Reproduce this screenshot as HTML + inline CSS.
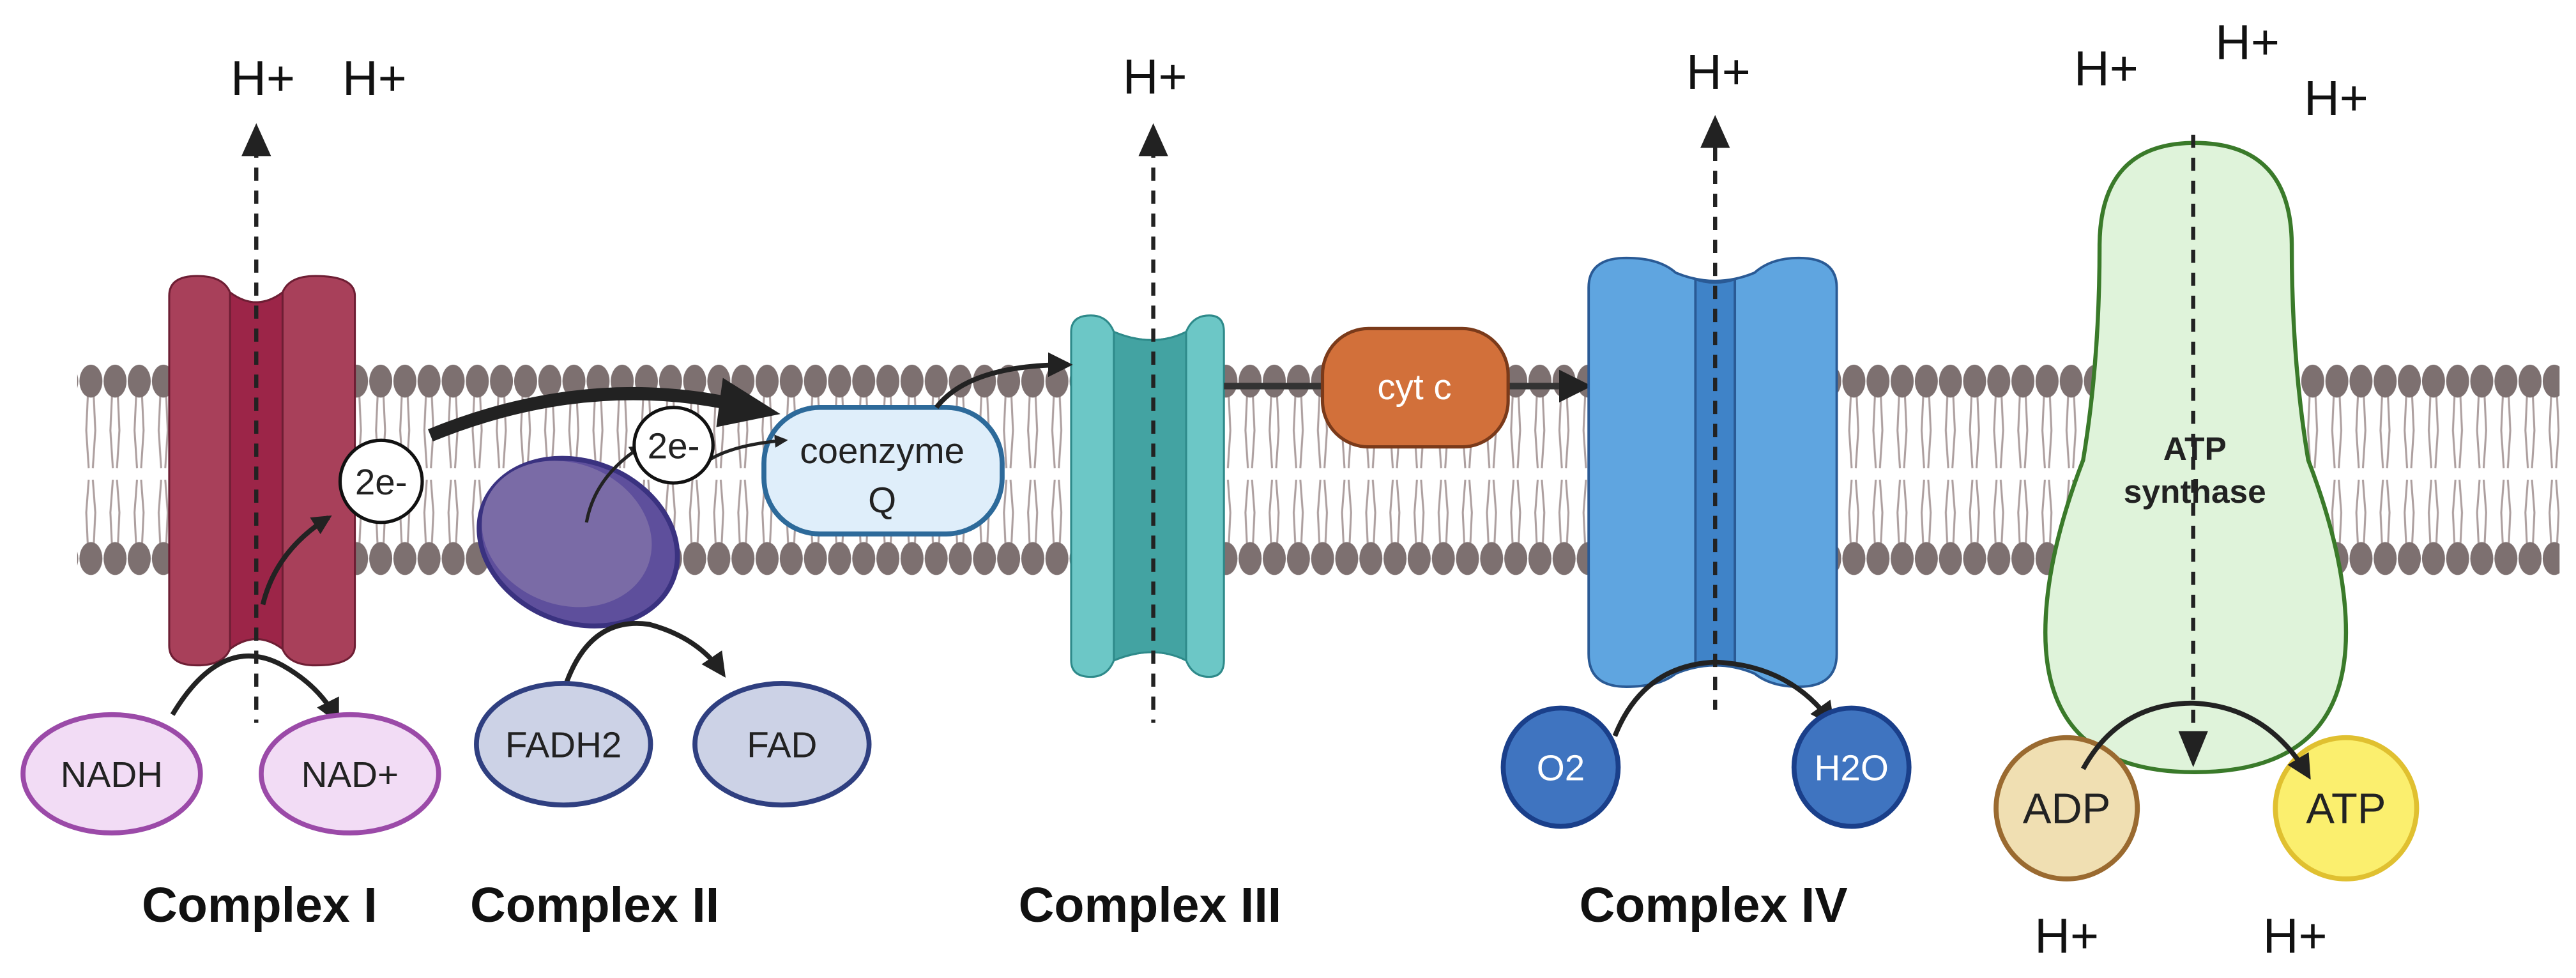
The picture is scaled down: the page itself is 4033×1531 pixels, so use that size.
<!DOCTYPE html>
<html><head><meta charset="utf-8"><style>html,body{margin:0;padding:0;background:#fff}svg{display:block}</style></head>
<body>
<svg width="4033" height="1531" viewBox="0 0 1568 595.3" preserveAspectRatio="none" xmlns="http://www.w3.org/2000/svg" font-family="Liberation Sans, sans-serif">
<defs>
<pattern id="lip" patternUnits="userSpaceOnUse" x="48" y="0" width="14.7" height="595">
<g stroke="#ad9f9f" stroke-width="1.2" fill="none">
<path d="M5.5 240 L4.5 262 L6 285 M9 240 L10 262 L8.5 285"/>
<path d="M6 292 L4.5 312 L5.5 333 M8.5 292 L10 312 L9 333"/>
</g>
<ellipse cx="7.35" cy="232" rx="7" ry="10" fill="#7d7070"/>
<ellipse cx="7.35" cy="340" rx="7" ry="10" fill="#7d7070"/>
</pattern>
<marker id="ah" viewBox="0 0 10 10" refX="8" refY="5" markerWidth="4" markerHeight="4" orient="auto"><path d="M0 0L10 5L0 10z" fill="#222"/></marker>
<marker id="ahs" viewBox="0 0 10 10" refX="8" refY="5" markerWidth="5" markerHeight="5" orient="auto"><path d="M0 0L10 5L0 10z" fill="#222"/></marker>
</defs>
<rect x="47" y="220" width="1511" height="132" fill="url(#lip)"/>

<!-- Complex I -->
<g stroke="#6e1e34" stroke-width="1.2">
<path d="M103 180 Q103 168 120 168 Q136 168 140 178 Q156 190 172 178 Q176 168 192 168 Q216 168 216 180 L216 393 Q216 405 192 405 Q176 405 172 395 Q156 383 140 395 Q136 405 120 405 Q103 405 103 393 Z" fill="#a8405a"/>
<path d="M140 178 Q156 190 172 178 L172 395 Q156 383 140 395 Z" fill="#9c2548"/>
</g>
<line x1="156" y1="88" x2="156" y2="440" stroke="#222" stroke-width="2.5" stroke-dasharray="8 6"/>
<path d="M147 95 L156 75 L165 95 Z" fill="#222"/>

<!-- Complex II -->
<ellipse cx="352" cy="330" rx="62" ry="49" transform="rotate(22 352 330)" fill="#5e4f9c" stroke="#3a3280" stroke-width="3"/>
<ellipse cx="345" cy="325" rx="53" ry="43" transform="rotate(22 345 325)" fill="#7a6ba6"/>

<!-- coenzyme Q -->
<rect x="465" y="248" width="145" height="77" rx="34" fill="#dfeefa" stroke="#2d6a9a" stroke-width="3"/>
<text x="537" y="282" font-size="22" text-anchor="middle" fill="#222">coenzyme</text>
<text x="537" y="312" font-size="22" text-anchor="middle" fill="#222">Q</text>

<!-- Complex III -->
<g stroke="#2e8a8a" stroke-width="1.2">
<path d="M652 202 Q652 192 664 192 Q674 192 678 202 Q702 212 722 202 Q726 192 736 192 Q745 192 745 202 L745 402 Q745 412 736 412 Q726 412 722 402 Q702 392 678 402 Q674 412 664 412 Q652 412 652 402 Z" fill="#6cc7c6"/>
<path d="M678 202 Q702 212 722 202 L722 402 Q702 392 678 402 Z" fill="#43a3a2"/>
</g>
<line x1="702" y1="88" x2="702" y2="440" stroke="#222" stroke-width="2.5" stroke-dasharray="8 6"/>
<path d="M693 95 L702 75 L711 95 Z" fill="#222"/>

<!-- cyt c -->
<line x1="745" y1="235" x2="806" y2="235" stroke="#333" stroke-width="4"/>
<line x1="918" y1="235" x2="965" y2="235" stroke="#333" stroke-width="4" marker-end="url(#ahs)"/>
<rect x="805" y="200" width="113" height="72" rx="28" fill="#d2703a" stroke="#7a3a1a" stroke-width="2"/>
<text x="861" y="243" font-size="22" text-anchor="middle" fill="#fff">cyt c</text>

<!-- Complex IV -->
<g stroke="#2a5a95" stroke-width="1.5">
<path d="M967 175 Q967 157 990 157 Q1010 157 1020 166 Q1044 176 1068 166 Q1078 157 1095 157 Q1118 157 1118 175 L1118 398 Q1118 418 1095 418 Q1078 418 1068 410 Q1044 400 1020 410 Q1010 418 990 418 Q967 418 967 398 Z" fill="#5fa5e0"/>
<path d="M1032 170 Q1044 174 1056 170 L1056 405 Q1044 401 1032 405 Z" fill="#3f83c8"/>
</g>
<line x1="1044" y1="90" x2="1044" y2="432" stroke="#222" stroke-width="2.5" stroke-dasharray="8 6"/>
<path d="M1035 90 L1044 70 L1053 90 Z" fill="#222"/>

<!-- ATP synthase -->
<path d="M1336 87 Q1395 87 1395 150 Q1395 220 1405 280 Q1428 340 1428 385 Q1428 470 1336 470 Q1245 470 1245 385 Q1245 340 1268 280 Q1278 220 1278 150 Q1278 87 1336 87 Z" fill="#dff3da" stroke="#3a7a2a" stroke-width="2.5"/>
<line x1="1335" y1="82" x2="1335" y2="450" stroke="#222" stroke-width="2.5" stroke-dasharray="8 6"/>
<path d="M1326 445 L1335 467 L1344 445 Z" fill="#222"/>
<text x="1336" y="280" font-size="20" font-weight="bold" text-anchor="middle" fill="#222">ATP</text>
<text x="1336" y="306" font-size="20" font-weight="bold" text-anchor="middle" fill="#222">synthase</text>

<!-- arrows -->
<path d="M262 265 Q360 225 455 248" fill="none" stroke="#222" stroke-width="8"/>
<path d="M440 230 L475 252 L436 260 Z" fill="#222"/>
<path d="M160 368 Q168 335 200 315" fill="none" stroke="#222" stroke-width="3" marker-end="url(#ah)"/>
<path d="M357 318 Q362 290 390 272" fill="none" stroke="#222" stroke-width="2" marker-end="url(#ah)"/>
<path d="M420 292 Q430 272 478 268" fill="none" stroke="#222" stroke-width="2" marker-end="url(#ah)"/>
<path d="M570 248 Q590 222 650 222" fill="none" stroke="#222" stroke-width="3" marker-end="url(#ahs)"/>
<path d="M105 435 Q135 385 172 405 Q195 418 205 438" fill="none" stroke="#222" stroke-width="3" marker-end="url(#ahs)"/>
<path d="M345 415 Q360 375 395 380 Q425 388 440 410" fill="none" stroke="#222" stroke-width="3" marker-end="url(#ahs)"/>
<path d="M983 448 Q1000 405 1044 403 Q1090 405 1115 440" fill="none" stroke="#222" stroke-width="3" marker-end="url(#ahs)"/>

<!-- 2e- circles -->
<ellipse cx="232" cy="293" rx="25" ry="25" fill="#fff" stroke="#111" stroke-width="2"/>
<text x="232" y="301" font-size="22" text-anchor="middle" fill="#222">2e-</text>
<ellipse cx="410" cy="271" rx="24" ry="23" fill="#fff" stroke="#111" stroke-width="2"/>
<text x="410" y="279" font-size="22" text-anchor="middle" fill="#222">2e-</text>

<!-- substrate circles -->
<ellipse cx="68" cy="471" rx="54" ry="36" fill="#f2dcf5" stroke="#9b4aa8" stroke-width="3"/>
<text x="68" y="479" font-size="22" text-anchor="middle" fill="#222">NADH</text>
<ellipse cx="213" cy="471" rx="54" ry="36" fill="#f2dcf5" stroke="#9b4aa8" stroke-width="3"/>
<text x="213" y="479" font-size="22" text-anchor="middle" fill="#222">NAD+</text>
<ellipse cx="343" cy="453" rx="53" ry="37" fill="#ccd2e6" stroke="#2f3f80" stroke-width="3"/>
<text x="343" y="461" font-size="22" text-anchor="middle" fill="#222">FADH2</text>
<ellipse cx="476" cy="453" rx="53" ry="37" fill="#ccd2e6" stroke="#2f3f80" stroke-width="3"/>
<text x="476" y="461" font-size="22" text-anchor="middle" fill="#222">FAD</text>
<ellipse cx="950" cy="467" rx="35" ry="36" fill="#3f74c0" stroke="#1a3f8a" stroke-width="3"/>
<text x="950" y="475" font-size="22" text-anchor="middle" fill="#fff">O2</text>
<ellipse cx="1127" cy="467" rx="35" ry="36" fill="#3f74c0" stroke="#1a3f8a" stroke-width="3"/>
<text x="1127" y="475" font-size="22" text-anchor="middle" fill="#fff">H2O</text>
<ellipse cx="1258" cy="492" rx="43" ry="43" fill="#f0dfb2" stroke="#9a6a30" stroke-width="3"/>
<text x="1258" y="501" font-size="26" text-anchor="middle" fill="#222">ADP</text>
<ellipse cx="1428" cy="492" rx="43" ry="43" fill="#fbef6e" stroke="#e0c030" stroke-width="3"/>
<text x="1428" y="501" font-size="26" text-anchor="middle" fill="#222">ATP</text>
<path d="M1268 468 Q1290 428 1335 428 Q1380 430 1405 472" fill="none" stroke="#222" stroke-width="3" marker-end="url(#ahs)"/>

<!-- H+ labels -->
<g font-size="30" fill="#111" text-anchor="middle">
<text x="160" y="58">H+</text><text x="228" y="58">H+</text>
<text x="703" y="57">H+</text><text x="1046" y="54">H+</text>
<text x="1282" y="52">H+</text><text x="1368" y="36">H+</text><text x="1422" y="70">H+</text>
<text x="1258" y="580">H+</text><text x="1397" y="580">H+</text>
</g>
<g font-size="30" font-weight="bold" fill="#111" text-anchor="middle">
<text x="158" y="561">Complex I</text><text x="362" y="561">Complex II</text>
<text x="700" y="561">Complex III</text><text x="1043" y="561">Complex IV</text>
</g>
</svg>
</body></html>
